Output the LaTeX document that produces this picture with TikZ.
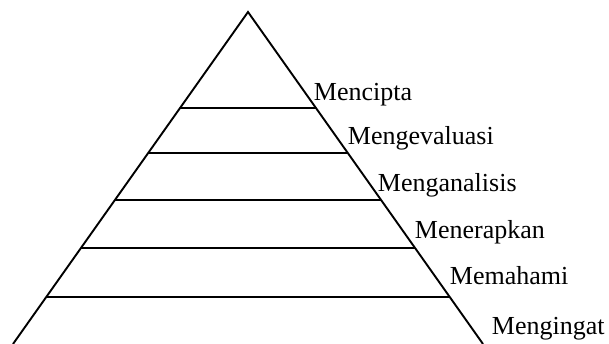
\documentclass[tikz,border=0pt]{standalone}
\usepackage{fontspec}
\setmainfont{Liberation Serif}
\usetikzlibrary{calc}

\begin{document}
\begin{tikzpicture}[x=1pt,y=1pt,line width=1.9pt]
\tikzstyle{level}=[anchor=base west, inner sep=0pt, font=\fontsize{26}{30}\selectfont]

\useasboundingbox (0,0) rectangle (609,344);

\coordinate (top) at (248,332);
\coordinate (bl) at (13,0);
\coordinate (br) at (483,0);

\draw (bl) -- (top) -- (br);

\draw ($(bl)!47/332!(top)$) -- ($(br)!47/332!(top)$);
\draw ($(bl)!96/332!(top)$) -- ($(br)!96/332!(top)$);
\draw ($(bl)!144/332!(top)$) -- ($(br)!144/332!(top)$);
\draw ($(bl)!191/332!(top)$) -- ($(br)!191/332!(top)$);
\draw ($(bl)!236/332!(top)$) -- ($(br)!236/332!(top)$);

\node[level] (mencipta) at (313,243) {Mencipta};
\node[level] (evaluasi) at (347,199) {Mengevaluasi};
\node[level] (analisis) at (377,152) {Menganalisis};
\node[level] (terapkan) at (414,105) {Menerapkan};
\node[level] (pahami) at (449,59) {Memahami};
\node[level] (ingat) at (491,9) {Mengingat};
\end{tikzpicture}
\end{document}
